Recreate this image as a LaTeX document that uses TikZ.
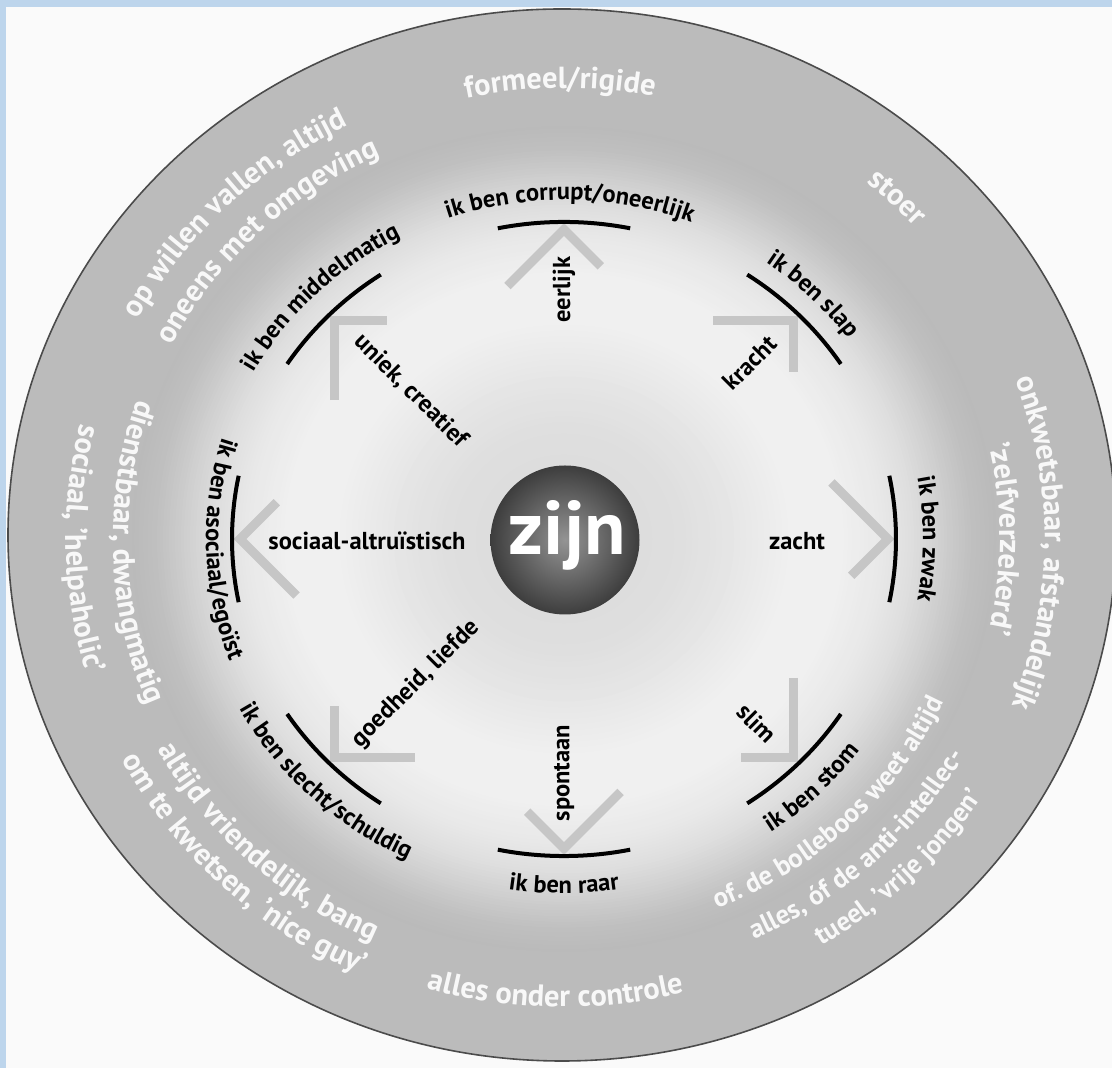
\documentclass[tikz,border=0pt]{standalone}
\usepackage{fontspec}
\setmainfont{PT Sans}
\usetikzlibrary{decorations.text}
\definecolor{frameblue}{RGB}{189,213,236}
\definecolor{ringgray}{RGB}{187,187,187}
\definecolor{edgegray}{RGB}{75,75,75}
\definecolor{chevgray}{RGB}{198,198,198}
\definecolor{whitetxt}{RGB}{248,248,248}
\newcommand{\kk}{0.955}
\newcommand{\bfmt}{\fontsize{24.5}{26}\selectfont\bfseries}
\newcommand{\wfmt}{\fontsize{30.5}{33}\selectfont\bfseries\color{whitetxt}}
\newcommand{\wsfmt}{\fontsize{27}{29}\selectfont\bfseries\color{whitetxt}}
% text along a clockwise arc (tops outward)
\newcommand{\cwtext}[4]{\path[decorate,decoration={text along path,text align=center,text={|#1|#4}}] (#2+50:#3 and #3*\kk) arc[start angle=#2+50,end angle=#2-50,x radius=#3,y radius=#3*\kk];}
% text along a counter-clockwise arc (tops inward)
\newcommand{\ccwtext}[4]{\path[decorate,decoration={text along path,text align=center,text={|#1|#4}}] (#2-50:#3 and #3*\kk) arc[start angle=#2-50,end angle=#2+50,x radius=#3,y radius=#3*\kk];}
\begin{document}
\begin{tikzpicture}[x=1pt,y=1pt,
  blk/.style={font=\bfmt, text=black, inner sep=0pt},
  arcline/.style={line width=4pt, black},
  chev/.style={line width=9pt, chevgray, line join=miter, line cap=butt}]
\useasboundingbox (0,0) rectangle (1112,1068);
\clip (0,0) rectangle (1112,1068);
\fill[white!98!black] (0,0) rectangle (1112,1068);
\fill[frameblue] (0,0) rectangle (6,1068);
\fill[frameblue] (0,1061) rectangle (1112,1068);
% outer ring
\filldraw[fill=ringgray, draw=edgegray, line width=1.6pt] (562,533) ellipse [x radius=554, y radius=526];
\begin{scope}[shift={(564,529)}]
  % soft inner gradient
  \foreach \ra/\ka/\rb/\kb in {432/27/410/25, 410/25/380/19, 380/19/350/13, 350/13/320/9, 320/9/280/6, 280/6/230/6, 230/6/170/10, 170/10/110/13, 110/13/0/14} {
    \foreach \i in {0,...,9} {
      \pgfmathsetmacro{\rr}{\ra+(\rb-\ra)*\i/10}
      \pgfmathsetmacro{\kv}{\ka+(\kb-\ka)*\i/10}
      \fill[black!\kv] (0,0) ellipse[x radius=\rr, y radius=\rr*\kk];
    }
  }
  % chevrons and arcs
  \foreach \a in {0,45,...,315} {
    \coordinate (tip\a) at (\a:324 and 324*\kk);
    \draw[chev] (tip\a) ++(\a+135:80) -- (tip\a) -- ++(\a-135:52);
  }
  \foreach \a in {0,45,...,315} {
    \draw[arcline] (\a-11.5:332 and 332*\kk) arc[start angle=\a-11.5, end angle=\a+11.5, x radius=332, y radius=332*\kk];
  }
  % radial labels
  \node[blk, rotate=90]  (eer) at (90:261 and 261*\kk) {eerlijk};
  \node[blk, rotate=45]  (kra) at (44.8:262 and 262*\kk) {kracht};
  \node[blk]             (zac) at (-0.5:233 and 233*\kk) {zacht};
  \node[blk, rotate=-45] (sli) at (-45:273 and 273*\kk) {slim};
  \node[blk, rotate=90]  (spo) at (270:245 and 245*\kk) {spontaan};
  \node[blk, rotate=45]  (goe) at (225.7:212 and 212*\kk) {goedheid, liefde};
  \node[blk]             (soc) at (180.6:197 and 197*\kk) {sociaal-altruïstisch};
  \node[blk, rotate=-45] (uni) at (134.6:218 and 218*\kk) {uniek, creatief};
  % black arc labels
  \cwtext{\bfmt}{89}{355}{ik ben corrupt/oneerlijk}
  \cwtext{\bfmt}{45}{353}{ik ben slap}
  \cwtext{\bfmt}{0}{359}{ik ben zwak}
  \cwtext{\bfmt}{134.6}{356}{ik ben middelmatig}
  \ccwtext{\bfmt}{270}{371}{ik ben raar}
  \ccwtext{\bfmt}{-45.7}{370}{ik ben stom}
  \ccwtext{\bfmt}{226.2}{370}{ik ben slecht/schuldig}
  \ccwtext{\bfmt}{181.8}{358}{ik ben asociaal/egoïst}
  % outer white texts
  \cwtext{\wfmt}{90.5}{472}{formeel/rigide}
  \cwtext{\wfmt}{46.2}{480}{stoer}
  \cwtext{\wfmt}{134.7}{484}{op willen vallen, altijd}
  \cwtext{\wfmt}{134.3}{442}{oneens met omgeving}
  \cwtext{\wfmt}{-0.5}{481}{onkwetsbaar, afstandelijk}
  \cwtext{\wfmt}{0}{436}{'zelfverzekerd'}
  \ccwtext{\wfmt}{269}{490}{alles onder controle}
  \ccwtext{\wsfmt}{-45.7}{416}{of. de bolleboos weet altijd}
  \ccwtext{\wsfmt}{-46.9}{460}{alles, óf de anti-intellec-}
  \ccwtext{\wsfmt}{-45.1}{498}{tueel, 'vrije jongen'}
  \ccwtext{\wfmt}{226.4}{462}{altijd vriendelijk, bang}
  \ccwtext{\wfmt}{226.2}{499}{om te kwetsen, 'nice guy'}
  \ccwtext{\wfmt}{181.9}{451}{dienstbaar, dwangmatig}
  \ccwtext{\wfmt}{181.3}{498}{sociaal, 'helpaholic'}
\end{scope}
% centre ball
\node[circle, minimum size=149pt, inner sep=0pt, inner color=black!42, outer color=black!76] (ball) at (565,528) {};
\node[font=\fontsize{76}{80}\selectfont\bfseries, text=white, anchor=base, inner sep=0pt] (zijn) at (567.5,513) {zijn};
\end{tikzpicture}
\end{document}
